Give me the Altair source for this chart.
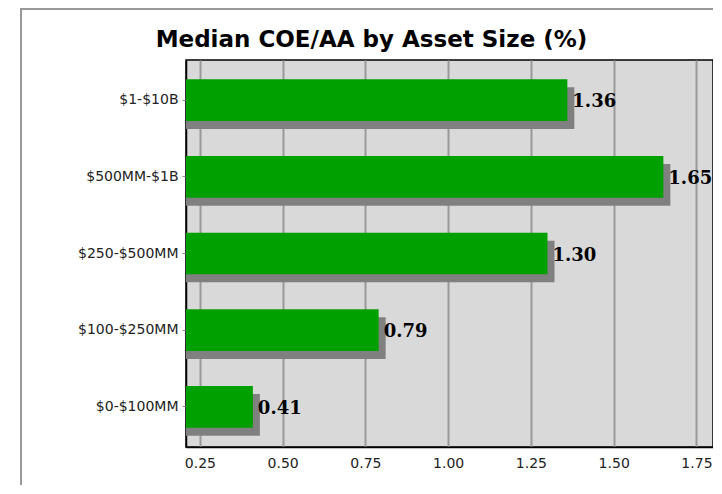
import altair as alt
import pandas as pd

categories = ["$1-$10B", "$500MM-$1B", "$250-$500MM", "$100-$250MM", "$0-$100MM"]
values = [1.36, 1.65, 1.30, 0.79, 0.41]
labels = ["1.36", "1.65", "1.30", "0.79", "0.41"]
x_ticks = [0.25, 0.50, 0.75, 1.00, 1.25, 1.50, 1.75]
title_text = "Median COE/AA by Asset Size (%)"

df = pd.DataFrame({"cat": categories, "value": values, "label": labels})

xscale = alt.Scale(domain=[0.208, 1.80], zero=False, nice=False)
yscale = alt.Scale(domain=categories, paddingInner=0.456, paddingOuter=0.25)

x_enc = alt.X("value:Q", scale=xscale, title=None,
              axis=alt.Axis(values=x_ticks, format=".2f", grid=True, gridColor="#999999",
                            gridWidth=2, ticks=False, labelFontSize=14, labelPadding=9,
                            labelColor="#222222", labelFont="DejaVu Sans",
                            domainColor="#000000", domainWidth=1.5))
y_enc = alt.Y("cat:N", scale=yscale, sort=categories, title=None,
              axis=alt.Axis(ticks=True, tickSize=4, tickColor="#888888", labelFontSize=14,
                            labelPadding=4, labelColor="#222222", labelFont="DejaVu Sans",
                            domainColor="#000000", domainWidth=1.5))

base = alt.Chart(df)

shadow = base.mark_bar(color="#808080", yOffset=8, y2Offset=8, xOffset=7, clip=True).encode(
    x=x_enc, y=y_enc
)
bars = base.mark_bar(color="#00A000", clip=True).encode(x=x_enc, y=y_enc)
text = base.mark_text(align="left", baseline="middle", dx=5, dy=2, font="DejaVu Serif",
                      fontWeight="bold", fontSize=18, color="#000000").encode(
    x=alt.X("value:Q", scale=xscale), y=alt.Y("cat:N", scale=yscale, sort=categories),
    text="label:N"
)

frame = alt.Chart(alt.Data(values=[{"a": 1}])).mark_rect(
    fill=None, stroke="#999999", strokeWidth=2, clip=False
).encode(x=alt.value(-165), x2=alt.value(560), y=alt.value(-51), y2=alt.value(460))

chart = alt.layer(frame, shadow, bars, text).properties(
    width=527, height=387,
    title=alt.TitleParams(title_text, font="DejaVu Sans", fontSize=23, fontWeight="bold",
                          color="#000000", anchor="middle", dx=-78, dy=44, offset=0),
    padding={"left": 178, "top": 52, "right": 0, "bottom": 38},
    autosize=alt.AutoSizeParams(type="none"),
    background="#FFFFFF",
).configure_view(
    fill="#D9D9D9", stroke="#000000", strokeWidth=1.5
)

chart.save("out.html", embed_options={"renderer": "svg", "actions": False})
